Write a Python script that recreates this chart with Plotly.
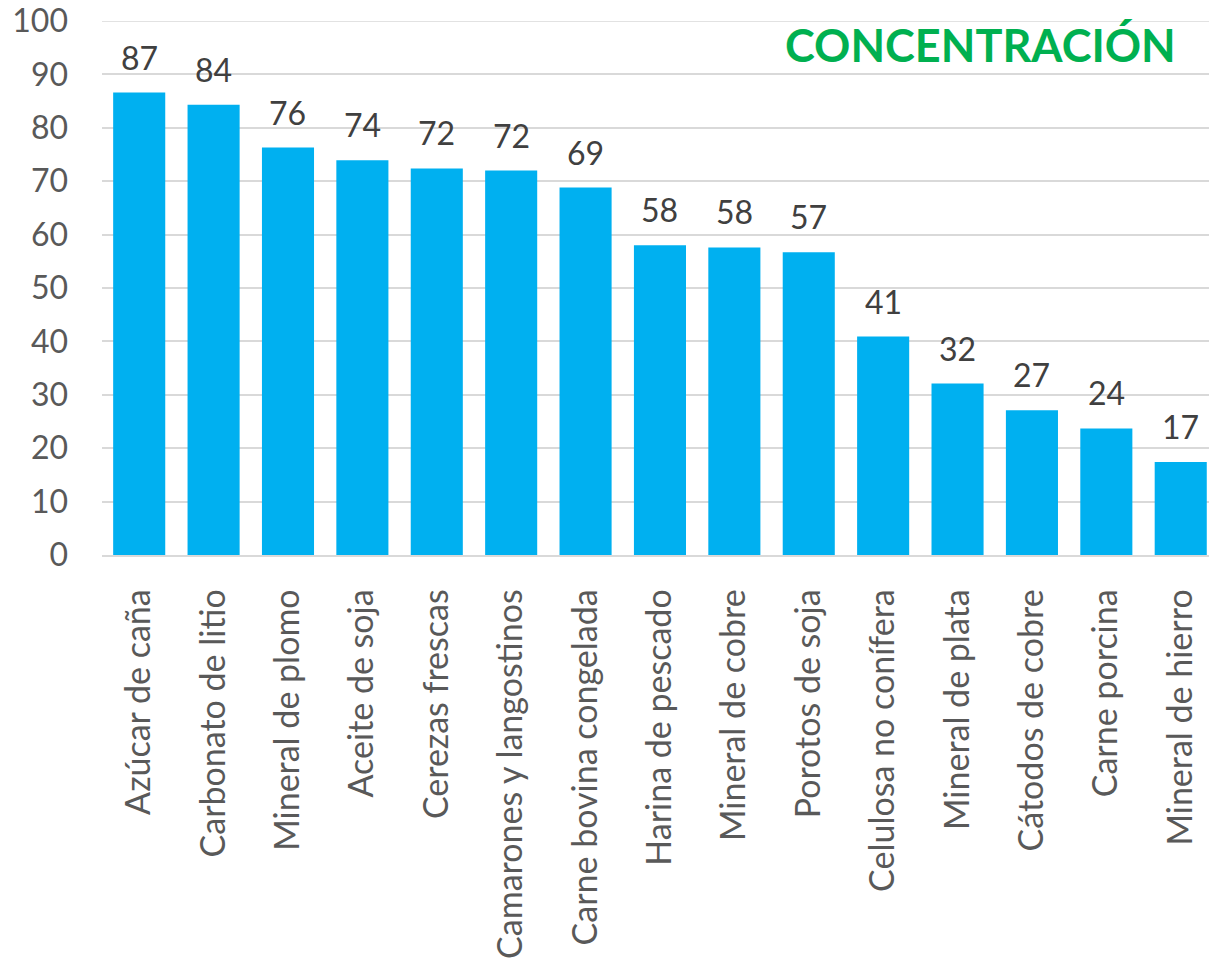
import plotly.graph_objects as go

categories = ["Azúcar de caña", "Carbonato de litio", "Mineral de plomo", "Aceite de soja",
              "Cerezas frescas", "Camarones y langostinos", "Carne bovina congelada",
              "Harina de pescado", "Mineral de cobre", "Porotos de soja", "Celulosa no conífera",
              "Mineral de plata", "Cátodos de cobre", "Carne porcina", "Mineral de hierro"]
values = [86.6, 84.3, 76.3, 73.9, 72.4, 72.0, 68.8, 58.0, 57.6, 56.7, 40.9, 32.1, 27.1, 23.7, 17.4]
title_text = "CONCENTRACIÓN"
y_ticks = [0, 10, 20, 30, 40, 50, 60, 70, 80, 90, 100]

FONT = "Lato"

fig = go.Figure()
fig.add_trace(go.Bar(
    x=categories, y=values,
    marker=dict(color="#00B0F0", line=dict(width=0)),
    hoverinfo="x+y",
))

for c, v in zip(categories, values):
    fig.add_annotation(x=c, y=v, text=f"{v:.0f}", showarrow=False,
                       yanchor="bottom", yshift=14,
                       font=dict(family=FONT, size=32, color="#404040"))

# top gridline (plotly omits gridlines lying exactly on the plot edge)
fig.add_shape(type="line", xref="paper", yref="y", x0=0, x1=1,
              y0=y_ticks[-1], y1=y_ticks[-1], line=dict(color="#d9d9d9", width=1.5),
              layer="below")

fig.add_annotation(xref="paper", yref="paper", x=0.972, y=0.955,
                   xanchor="right", yanchor="middle", text=f"<b>{title_text}</b>",
                   showarrow=False, font=dict(family=FONT, size=45, color="#00B050"))

fig.update_layout(
    width=1209, height=964,
    margin=dict(l=102, r=0, t=21, b=409, pad=0),
    plot_bgcolor="white", paper_bgcolor="white",
    bargap=0.30,
    showlegend=False,
    font=dict(family=FONT, size=32, color="#595959"),
)
fig.update_xaxes(
    range=[-0.5, 14.38], tickangle=-90, showgrid=False,
    showline=True, linecolor="#d9d9d9", linewidth=1.5,
    ticks="", ticklabelstandoff=19,
    tickfont=dict(family=FONT, size=34, color="#595959"),
)
fig.update_yaxes(
    range=[0, 100], tickvals=y_ticks, showgrid=True, gridcolor="#d9d9d9", gridwidth=1.5,
    zeroline=False, showline=False, ticks="", ticklabelstandoff=33,
    tickfont=dict(family=FONT, size=32, color="#595959"),
)

fig.write_html("out.html", config={"displayModeBar": False},
               post_script="document.body.style.margin='0';")
